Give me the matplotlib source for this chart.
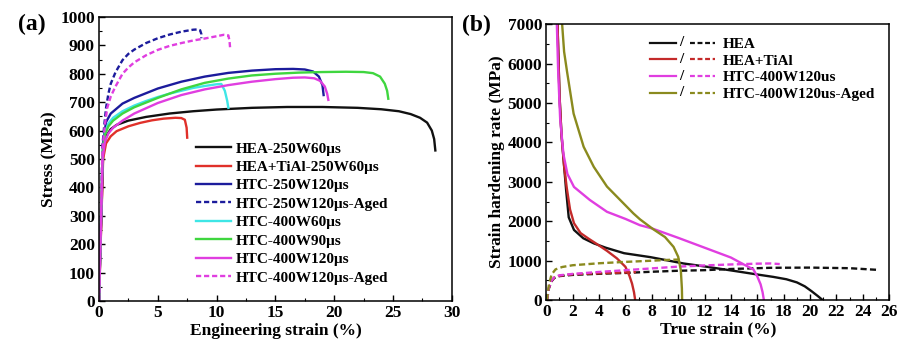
import matplotlib
matplotlib.use("Agg")
import matplotlib.pyplot as plt
from matplotlib.lines import Line2D
from matplotlib.legend_handler import HandlerBase
from matplotlib.text import Text
from matplotlib.ticker import MultipleLocator

plt.rcParams['font.family'] = ['Liberation Serif', 'DejaVu Serif']
plt.rcParams['font.weight'] = 'bold'
plt.rcParams['mathtext.default'] = 'bf'

# ---------------- (a) engineering stress-strain ----------------
hea_x = [0, 0.35, 0.6, 1.0, 1.5, 2.5, 4, 6, 8, 10, 13, 16, 19, 22, 24, 25.5, 26.5, 27.3, 27.9, 28.3, 28.5, 28.6]
hea_y = [0, 520, 580, 605, 620, 635, 648, 660, 668, 674, 680, 683, 683, 680, 675, 668, 658, 645, 628, 600, 570, 530]

tial_x = [0, 0.35, 0.6, 1.0, 1.5, 2.5, 3.5, 4.5, 5.5, 6.5, 7.0, 7.3, 7.45, 7.5]
tial_y = [0, 500, 555, 580, 598, 615, 627, 636, 642, 645, 644, 638, 610, 575]

h250_x = [0, 0.35, 0.6, 1, 2, 3, 5, 7, 9, 11, 13, 15, 16.5, 17.5, 18.2, 18.7, 19.0, 19.1]
h250_y = [0, 560, 630, 660, 695, 715, 748, 772, 790, 803, 811, 816, 817, 815, 808, 790, 760, 725]

h250a_x = [0, 0.3, 0.45, 0.6, 0.8, 1.0, 1.4, 2, 2.5, 3, 4, 5, 6, 7, 8, 8.4, 8.6, 8.7, 8.7]
h250a_y = [0, 550, 620, 680, 730, 765, 805, 848, 870, 885, 908, 925, 938, 948, 955, 956, 953, 940, 925]

h400_60_x = [0, 0.3, 0.5, 0.8, 1.2, 2, 3, 4, 5, 6, 7, 8, 9, 10, 10.4, 10.7, 10.9, 11.0]
h400_60_y = [0, 520, 590, 625, 645, 668, 688, 704, 718, 730, 740, 750, 757, 763, 764, 740, 705, 680]

h400_90_x = [0, 0.3, 0.5, 0.8, 1.2, 2, 3, 5, 7, 9, 11, 13, 15, 17, 19, 21, 22.5, 23.3, 23.9, 24.3, 24.5, 24.6]
h400_90_y = [0, 520, 585, 615, 635, 660, 682, 715, 745, 768, 783, 794, 800, 804, 806, 807, 806, 802, 790, 765, 740, 712]

h400_120_x = [0, 0.3, 0.5, 0.8, 1.2, 2, 3, 5, 7, 9, 11, 13, 15, 16.5, 17.5, 18.3, 18.8, 19.2, 19.4, 19.5]
h400_120_y = [0, 500, 560, 590, 610, 635, 660, 697, 725, 745, 760, 772, 781, 786, 787, 784, 775, 755, 730, 708]

h400a_x = [0, 0.3, 0.5, 0.7, 1.0, 1.4, 2, 2.5, 3, 4, 5, 6, 7, 8, 9, 10, 10.6, 11.0, 11.1, 11.15]
h400a_y = [0, 540, 620, 680, 720, 755, 800, 822, 840, 865, 884, 898, 908, 917, 924, 932, 937, 935, 915, 890]

eng_series = [
    ("HEA-250W60μs", hea_x, hea_y, "#111111", "-"),
    ("HEA+TiAl-250W60μs", tial_x, tial_y, "#e0302a", "-"),
    ("HTC-250W120μs", h250_x, h250_y, "#1c1c9c", "-"),
    ("HTC-250W120μs-Aged", h250a_x, h250a_y, "#1c1c9c", "--"),
    ("HTC-400W60μs", h400_60_x, h400_60_y, "#3ee6e6", "-"),
    ("HTC-400W90μs", h400_90_x, h400_90_y, "#3fd63f", "-"),
    ("HTC-400W120μs", h400_120_x, h400_120_y, "#e03ee0", "-"),
    ("HTC-400W120μs-Aged", h400a_x, h400a_y, "#e03ee0", "--"),
]

# ---------------- (b) strain hardening rate ----------------
hea_s_x = [0.85, 1.0, 1.15, 1.35, 1.5, 1.7, 2.1, 2.8, 3.6, 4.5, 5.9, 7.9, 10.4, 12.2, 14.7, 16, 17.2, 18.2, 19, 19.6, 20.1, 20.6, 20.96]
hea_s_y = [7000, 5200, 4200, 3400, 2800, 2100, 1780, 1570, 1440, 1330, 1190, 1090, 930, 845, 718, 650, 590, 530, 450, 350, 230, 100, 0]
hea_d_x = [0.05, 0.2, 0.4, 0.6, 1, 2, 4, 6, 8, 10, 12, 14, 17, 20, 23, 25]
hea_d_y = [0, 300, 480, 560, 610, 640, 668, 690, 720, 745, 760, 790, 820, 825, 810, 770]

tial_s_x = [0.85, 1.0, 1.15, 1.35, 1.55, 1.8, 2.1, 2.6, 3.2, 3.8, 4.6, 5.35, 6.0, 6.3, 6.5, 6.65, 6.74]
tial_s_y = [7000, 5200, 4200, 3400, 2850, 2300, 1950, 1700, 1560, 1430, 1250, 1060, 845, 620, 420, 200, 0]
tial_d_x = [0.05, 0.2, 0.4, 0.6, 1, 2, 3, 4, 5, 6, 6.8]
tial_d_y = [0, 320, 500, 570, 620, 655, 670, 682, 692, 702, 710]

htc_s_x = [0.8, 0.9, 1.05, 1.3, 1.6, 2.1, 3.3, 4.6, 6, 7.1, 8, 10, 12, 14, 15, 15.7, 16.0, 16.25, 16.4, 16.5]
htc_s_y = [7000, 5800, 4600, 3700, 3200, 2870, 2540, 2240, 2060, 1900, 1820, 1580, 1330, 1080, 900, 780, 600, 400, 200, 0]
htc_d_x = [0.05, 0.2, 0.4, 0.6, 1, 2, 4, 6, 8, 10, 12, 14, 16, 17, 17.7]
htc_d_y = [0, 320, 500, 580, 630, 665, 715, 760, 805, 850, 880, 905, 925, 930, 915]

aged_s_x = [1.2, 1.35, 1.57, 2.07, 2.83, 3.6, 4.6, 6.1, 6.6, 7.1, 8.1, 9.0, 9.65, 10.0, 10.2, 10.28, 10.3]
aged_s_y = [7000, 6300, 5800, 4730, 3890, 3380, 2880, 2370, 2200, 2050, 1800, 1600, 1350, 1100, 760, 300, 0]
aged_d_x = [0.05, 0.2, 0.4, 0.7, 1.2, 2, 4, 6, 8, 9.5, 10.3]
aged_d_y = [0, 400, 650, 780, 840, 885, 935, 970, 1000, 1025, 1030]

hard_series = [
    ("HEA", hea_s_x, hea_s_y, hea_d_x, hea_d_y, "#111111"),
    ("HEA+TiAl", tial_s_x, tial_s_y, tial_d_x, tial_d_y, "#c42a2a"),
    ("HTC-400W120us", htc_s_x, htc_s_y, htc_d_x, htc_d_y, "#e03ee0"),
    ("HTC-400W120us-Aged", aged_s_x, aged_s_y, aged_d_x, aged_d_y, "#8a8a1e"),
]


class SolidSlashDashed(HandlerBase):
    """Legend key: solid line, a slash, then a dashed line in the same colour."""

    def create_artists(self, legend, orig_handle, xdescent, ydescent,
                       width, height, fontsize, trans):
        c = orig_handle.get_color()
        yc = height / 2 - ydescent
        solid = Line2D([-xdescent, -xdescent + 0.40 * width], [yc, yc],
                       color=c, lw=1.6, transform=trans)
        slash = Text(-xdescent + 0.49 * width, yc, "/", ha="center", va="center",
                     fontsize=fontsize, fontweight="bold", transform=trans)
        dashed = Line2D([-xdescent + 0.61 * width, -xdescent + width], [yc, yc],
                        color=c, lw=1.6, ls=(0, (2.2, 1.2)), transform=trans)
        return [solid, slash, dashed]


fig = plt.figure(figsize=(9.0, 3.49), dpi=100)
ax1 = fig.add_axes([0.110, 0.1375, 0.392, 0.814])
ax2 = fig.add_axes([0.607, 0.140, 0.381, 0.791])

tick_fs = 12.5
label_fs = 12.5

for label, xs, ys, col, ls in eng_series:
    ax1.plot(xs, ys, color=col, lw=1.7, ls=ls if ls == "-" else (0, (2.2, 1.2)), label=label)

ax1.set_xlim(0, 30)
ax1.set_ylim(0, 1000)
ax1.xaxis.set_major_locator(MultipleLocator(5))
ax1.xaxis.set_minor_locator(MultipleLocator(2.5))
ax1.yaxis.set_major_locator(MultipleLocator(100))
ax1.yaxis.set_minor_locator(MultipleLocator(50))
ax1.set_xlabel("Engineering strain (%)", fontsize=label_fs, fontweight="bold", labelpad=1)
ax1.set_ylabel("Stress (MPa)", fontsize=label_fs, fontweight="bold", labelpad=2)
ax1.legend(loc="upper left", bbox_to_anchor=(0.245, 0.598), frameon=False,
           fontsize=11, handlelength=2.3, handletextpad=0.3, labelspacing=0.31,
           borderpad=0.2)
ax1.text(-0.23, 0.972, "(a)", transform=ax1.transAxes, fontsize=17,
         fontweight="bold", va="center", ha="left")

for label, sx, sy, dx, dy, col in hard_series:
    ax2.plot(sx, sy, color=col, lw=1.7, label=label)
    ax2.plot(dx, dy, color=col, lw=1.7, ls=(0, (2.6, 1.4)))

ax2.set_xlim(0, 26)
ax2.set_ylim(0, 7000)
ax2.xaxis.set_major_locator(MultipleLocator(2))
ax2.xaxis.set_minor_locator(MultipleLocator(1))
ax2.yaxis.set_major_locator(MultipleLocator(1000))
ax2.yaxis.set_minor_locator(MultipleLocator(500))
ax2.set_xlabel("True strain (%)", fontsize=label_fs, fontweight="bold", labelpad=1)
ax2.set_ylabel("Strain hardening rate (MPa)", fontsize=label_fs, fontweight="bold", labelpad=2)
ax2.legend(loc="upper left", bbox_to_anchor=(0.27, 0.99), frameon=False,
           fontsize=11, handlelength=4.3, handletextpad=0.5, labelspacing=0.19,
           borderpad=0.2, handler_map={Line2D: SolidSlashDashed()})
ax2.text(-0.245, 0.995, "(b)", transform=ax2.transAxes, fontsize=17,
         fontweight="bold", va="center", ha="left")

for ax in (ax1, ax2):
    ax.tick_params(which="both", direction="in", top=False, right=False)
    ax.tick_params(which="major", length=4, width=1.0, labelsize=tick_fs, pad=3)
    ax.tick_params(which="minor", length=2.5, width=0.8)
    for lab in ax.get_xticklabels() + ax.get_yticklabels():
        lab.set_fontweight("bold")
    for sp in ax.spines.values():
        sp.set_linewidth(1.1)

fig.savefig("out.png", dpi=100)
